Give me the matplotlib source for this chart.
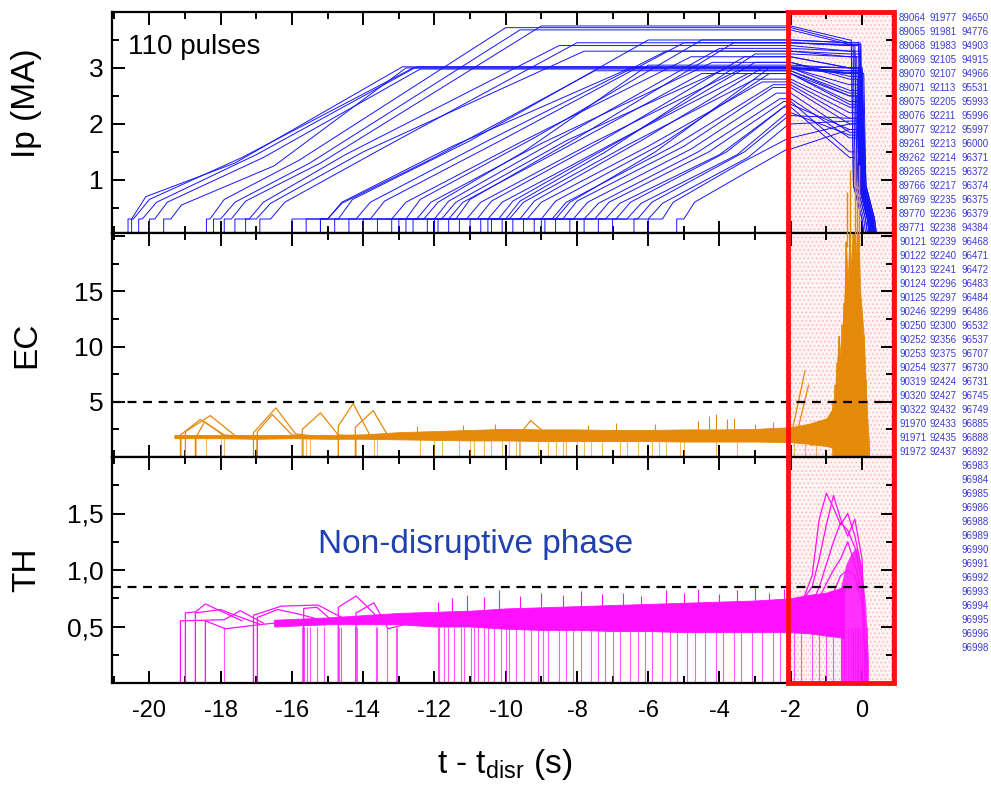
import numpy as np
import matplotlib
matplotlib.use("Agg")
from matplotlib import pyplot as plt
from matplotlib.patches import Rectangle
from matplotlib.ticker import MultipleLocator, FuncFormatter
import matplotlib.transforms as mtransforms

plt.rcParams['font.family'] = ['Liberation Sans', 'DejaVu Sans']
plt.rcParams['mathtext.fontset'] = 'custom'
plt.rcParams['mathtext.rm'] = 'Liberation Sans'
plt.rcParams['mathtext.it'] = 'Liberation Sans'
plt.rcParams['hatch.linewidth'] = 0.6

# ---------------- Ip traces (one entry per pulse shown) ----------------
# on: current appears, rt: end of 0.3 MA pedestal, kt/kv: knee, mt/mv: mid ramp,
# tt/tv: flat-top start, ev: level just before quench, q: quench time
ip_on = [-20.5, -20.3, -20.0, -20.6, -19.6, -18.4, -18.2, -17.9, -17.6, -17.3, -16.9,
         -16.0, -15.6, -15.2, -14.8, -14.4, -14.0, -13.6, -13.2, -12.8, -12.6, -12.2,
         -11.9, -11.6, -11.3, -11.0, -10.7, -10.4, -10.1, -9.8, -9.5, -9.2, -8.9, -8.6,
         -8.2, -7.8, -7.4, -7.0, -6.4, -13.0, -10.5, -9.0, -15.2, -12.0, -6.0, -5.2]
ip_rt = [-20.45, -20.2, -19.85, -20.5, -19.4, -18.3, -18.0, -17.7, -17.2, -17.0, -16.6,
         -15.0, -14.7, -14.2, -13.8, -13.2, -12.8, -12.5, -12.0, -11.8, -11.4, -11.1,
         -10.8, -10.5, -10.2, -9.9, -9.6, -9.4, -9.0, -8.7, -8.4, -8.1, -7.8, -7.5,
         -7.2, -6.9, -6.6, -6.3, -6.0, -12.3, -10.0, -8.6, -15.0, -11.6, -5.6, -5.0]
ip_kt = [-20.0, -19.8, -19.5, -20.1, -19.1, -17.9, -17.6, -17.3, -16.8, -16.6, -16.2,
         -14.6, -14.3, -13.8, -13.4, -12.8, -12.4, -12.1, -11.6, -11.4, -11.0, -10.7,
         -10.4, -10.1, -9.8, -9.5, -9.2, -9.0, -8.6, -8.3, -8.0, -7.7, -7.4, -7.1,
         -6.8, -6.5, -6.2, -5.9, -5.6, -11.9, -9.6, -8.2, -14.6, -11.2, -5.3, -4.7]
ip_kv = [0.65, 0.6, 0.6, 0.7, 0.55, 0.65, 0.6, 0.62, 0.6, 0.58, 0.6,
         0.6, 0.65, 0.6, 0.62, 0.6, 0.65, 0.6, 0.62, 0.6, 0.65, 0.6,
         0.62, 0.6, 0.62, 0.6, 0.62, 0.6, 0.62, 0.6, 0.62, 0.6, 0.58, 0.6,
         0.58, 0.6, 0.58, 0.6, 0.58, 0.6, 0.62, 0.6, 0.58, 0.6, 0.6, 0.6]
ip_mt = [-17.4, -17.0, -16.8, -17.6, -16.5, -15.8, -15.5, -15.2, -14.5, -14.0, -13.5,
         -11.5, -11.0, -10.5, -10.0, -9.5, -9.2, -9.0, -8.6, -8.3, -8.0, -7.6,
         -7.3, -7.0, -6.8, -6.5, -6.2, -6.0, -5.6, -5.3, -5.0, -4.8, -4.6, -4.3,
         -4.0, -3.8, -3.5, -3.3, -3.2, -9.5, -7.2, -5.8, -12.0, -8.4, -3.4, -3.2]
ip_mv = [1.4, 1.45, 1.4, 1.3, 1.25, 1.35, 1.3, 1.3, 1.45, 1.5, 1.55,
         1.6, 1.7, 1.7, 1.75, 1.7, 1.75, 1.65, 1.7, 1.7, 1.75, 1.65,
         1.7, 1.65, 1.7, 1.65, 1.7, 1.6, 1.65, 1.6, 1.6, 1.55, 1.5, 1.5,
         1.45, 1.5, 1.45, 1.5, 1.4, 1.5, 1.5, 1.5, 1.4, 1.55, 1.3, 1.15]
ip_tt = [-12.6, -12.5, -12.4, -12.9, -12.8, -10.0, -9.6, -9.0, -8.5, -7.8, -8.0,
         -6.5, -6.0, -5.5, -5.0, -4.8, -4.5, -4.2, -4.0, -3.8, -3.6, -3.5,
         -3.3, -3.2, -3.0, -3.0, -2.8, -2.8, -2.6, -2.5, -2.5, -2.4, -2.3, -2.2,
         -2.2, -2.1, -2.1, -2.05, -2.05, -6.0, -3.0, -2.6, -7.5, -4.5, -2.05, -2.1]
ip_tv = [3.0, 3.02, 2.98, 3.02, 3.0, 3.72, 3.68, 3.75, 3.4, 3.3, 3.45,
         3.0, 3.5, 3.3, 3.45, 3.2, 3.5, 3.1, 3.35, 3.0, 3.45, 2.95,
         3.2, 2.9, 3.1, 2.8, 3.0, 2.75, 2.9, 2.7, 2.65, 2.55, 2.45, 2.4,
         2.3, 2.35, 2.2, 2.15, 2.0, 3.05, 3.25, 3.0, 2.95, 2.9, 1.75, 1.55]
ip_ev = [2.95, 2.9, 2.9, 3.0, 2.92, 3.45, 3.42, 3.5, 3.3, 3.2, 3.4,
         2.95, 3.45, 3.25, 3.4, 3.0, 3.45, 2.8, 3.3, 2.7, 3.42, 2.5,
         3.0, 2.4, 2.85, 2.3, 2.6, 2.2, 2.5, 2.1, 2.0, 1.85, 1.75, 1.5,
         1.4, 1.9, 1.8, 2.1, 2.05, 3.0, 3.2, 2.9, 2.55, 2.35, 2.0, 1.9]
ip_q = [0.0, -0.05, 0.05, 0.0, 0.02, -0.3, -0.25, -0.3, -0.2, -0.15, -0.2,
        -0.1, -0.1, -0.05, -0.08, -0.1, -0.05, -0.12, -0.05, -0.1, -0.03, -0.15,
        -0.05, -0.1, -0.05, -0.12, -0.08, -0.1, -0.05, -0.12, -0.08, -0.1, -0.05, -0.1,
        -0.15, -0.1, -0.08, -0.05, 0.0, 0.0, -0.05, -0.02, -0.1, -0.05, 0.05, 0.05]

# ---------------- EC (orange) ----------------
ec_bt = [-19.3, -18.0, -17.0, -16.0, -15.0, -14.0, -13.0, -12.0, -11.0, -10.0, -9.0,
         -8.0, -7.0, -6.0, -5.0, -4.0, -3.0, -2.0, -1.5, -1.0, -0.8]
ec_lo = [1.7, 1.7, 1.65, 1.7, 1.65, 1.65, 1.6, 1.55, 1.5, 1.5, 1.45,
         1.45, 1.45, 1.45, 1.4, 1.4, 1.4, 1.35, 1.2, 1.0, 0.8]
ec_hi = [2.0, 2.0, 2.0, 2.0, 2.0, 2.05, 2.25, 2.35, 2.45, 2.55, 2.5,
         2.5, 2.45, 2.45, 2.5, 2.5, 2.55, 2.7, 3.0, 3.5, 4.5]
ec_bump_t0 = [-19.13, -18.99, -18.71, -17.08, -16.97, -15.71, -14.70, -14.22, -9.6]
ec_bump_v0 = [2.0, 2.3, 1.7, 2.2, 2.3, 2.5, 2.8, 2.7, 2.1]
ec_bump_tp = [-18.57, -18.29, -18.45, -16.45, -16.55, -15.20, -14.28, -13.72, -9.3]
ec_bump_vp = [3.4, 3.75, 3.2, 4.45, 3.85, 4.0, 4.85, 4.2, 3.3]
ec_bump_t1 = [-17.9, -17.6, -17.9, -15.9, -16.0, -14.7, -13.8, -13.3, -8.9]
ec_bump_v1 = [2.0, 1.95, 1.9, 2.1, 2.0, 2.0, 1.9, 1.9, 2.2]
ec_drop_t = [-19.1, -19.0, -18.7, -18.4, -18.0, -17.9, -17.1, -17.0, -15.7, -15.6,
             -15.5, -14.7, -14.2, -13.7, -13.6, -12.4, -12.0, -11.8, -11.3, -11.0,
             -10.9, -10.6, -10.4, -10.1, -9.9, -9.7, -9.1, -8.8, -8.6, -8.4, -8.3,
             -8.0, -7.8, -7.6, -7.3, -6.8, -6.6, -6.3, -5.9, -5.7, -5.5, -5.1, -5.0,
             -4.1, -3.5, -1.9, -1.6, -1.3]
ec_spk_t = [-12.5, -11.2, -10.3, -7.7, -6.9, -5.8, -4.6, -4.3, -4.1, -3.8, -3.6, -3.0, -2.5]
ec_spk_v = [2.8, 2.9, 3.0, 2.9, 3.1, 3.0, 3.3, 3.75, 3.9, 3.4, 3.55, 3.0, 3.2]
ec_late_t = [-0.8, -0.75, -0.7, -0.65, -0.6, -0.55, -0.5, -0.45, -0.4, -0.35, -0.3, -0.25,
             -0.2, -0.15, -0.1, -0.05, 0.0, 0.05, 0.1, 0.15, 0.2]
ec_late_v = [5.0, 6.5, 8.5, 11.0, 9.0, 12.0, 14.0, 19.5, 16.0, 20.5, 17.0, 20.5,
             20.5, 18.0, 20.5, 15.0, 13.0, 11.0, 7.0, 3.5, 1.0]
ec_over_t = [-0.42, -0.34, -0.2, -0.14, -0.08]
ec_over_v = [24.0, 26.0, 28.0, 25.0, 26.5]

# ---------------- TH (magenta) ----------------
th_bt = [-16.5, -15.0, -14.0, -13.0, -12.0, -11.0, -10.0, -9.0, -8.0, -7.0, -6.0,
         -5.0, -4.0, -3.0, -2.0, -1.5, -1.0, -0.5]
th_lo = [0.50, 0.52, 0.52, 0.52, 0.50, 0.50, 0.48, 0.47, 0.47, 0.46, 0.46,
         0.45, 0.45, 0.45, 0.45, 0.44, 0.42, 0.40]
th_hi = [0.56, 0.58, 0.60, 0.62, 0.63, 0.64, 0.66, 0.67, 0.68, 0.69, 0.70,
         0.71, 0.72, 0.73, 0.75, 0.78, 0.80, 0.85]
th_tr_t0 = [-19.13, -18.99, -18.71, -18.43, -17.08, -16.97, -15.67, -14.70, -14.20]
th_tr_v0 = [0.55, 0.62, 0.62, 0.55, 0.60, 0.58, 0.66, 0.67, 0.62]
th_tr_t1 = [-17.9, -18.7, -18.0, -17.87, -16.3, -16.4, -15.3, -14.2, -13.7]
th_tr_v1 = [0.56, 0.63, 0.65, 0.48, 0.68, 0.65, 0.67, 0.77, 0.71]
th_tr_t2 = [-17.45, -18.43, -17.6, -16.8, -15.27, -15.8, -14.9, -13.9, -13.3]
th_tr_v2 = [0.64, 0.70, 0.60, 0.52, 0.69, 0.61, 0.56, 0.68, 0.48]
th_tr_t3 = [-16.8, -17.4, -16.9, -16.2, -14.6, -15.1, -14.3, -13.5, -12.8]
th_tr_v3 = [0.53, 0.55, 0.52, 0.54, 0.58, 0.55, 0.55, 0.55, 0.52]
th_drop_t = [-19.13, -18.99, -18.71, -18.43, -17.92, -17.08, -16.97, -15.71, -15.67,
             -15.57, -15.48, -15.29, -15.1, -14.68, -14.63, -14.22, -14.17, -13.65,
             -13.6, -13.32, -13.09, -13.04, -11.91, -11.86, -11.72, -11.63, -11.44,
             -11.25, -11.16, -10.97, -10.88, -10.79, -10.6, -10.5, -10.32, -10.13,
             -9.99, -9.9, -9.7, -9.5, -9.3, -9.1, -8.95, -8.8, -8.5, -8.3, -8.1, -7.9,
             -7.6, -7.4, -7.2, -7.0, -6.8, -6.5, -6.3, -6.1, -5.9, -5.6, -5.4, -5.2,
             -4.9, -4.7, -4.4, -4.1, -3.9, -3.6, -3.4, -3.1, -2.8, -2.5, -2.3, -2.1,
             -1.9, -1.7, -1.4, -1.2, -1.0, -0.8, -0.6, -0.5, -0.4, -0.3, -0.25, -0.2,
             -0.15, -0.1, -0.05, 0.0, 0.05, 0.1, 0.15]
th_spk_t = [-11.9, -11.5, -11.1, -10.6, -10.2, -9.6, -9.0, -8.4, -7.9, -7.3, -6.7,
            -6.2, -5.5, -5.0, -4.6, -4.0, -3.5, -3.0, -2.6, -2.2]
th_spk_v = [0.72, 0.75, 0.78, 0.76, 0.82, 0.77, 0.80, 0.78, 0.81, 0.79, 0.80,
            0.77, 0.82, 0.80, 0.83, 0.79, 0.82, 0.84, 0.80, 0.83]
th_late_t = [-2.0, -1.7, -1.4, -1.2, -1.0, -0.8, -0.6, -0.4, -0.2, 0.0, 0.12]
th_late_1 = [0.62, 0.70, 0.95, 1.45, 1.68, 1.55, 1.40, 1.50, 1.30, 1.0, 0.0]
th_late_2 = [0.66, 0.72, 0.85, 1.10, 1.40, 1.66, 1.45, 1.30, 1.45, 1.1, 0.0]
th_late_3 = [0.58, 0.62, 0.70, 0.85, 1.05, 1.25, 1.42, 1.35, 1.20, 0.9, 0.0]
th_late_4 = [0.55, 0.60, 0.66, 0.75, 0.88, 1.00, 1.10, 1.25, 1.05, 0.8, 0.0]
th_late_5 = [0.50, 0.52, 0.58, 0.62, 0.70, 0.80, 0.95, 1.00, 0.95, 0.7, 0.0]
th_dense_t = [-0.6, -0.45, -0.3, -0.15, 0.0, 0.1, 0.18]
th_dense_v = [0.85, 1.05, 1.15, 1.2, 1.0, 0.7, 0.2]

# ---------------- pulse list ----------------
pulses_1 = [89064, 89065, 89068, 89069, 89070, 89071, 89075, 89076, 89077, 89261, 89262,
            89265, 89766, 89769, 89770, 89771, 90121, 90122, 90123, 90124, 90125, 90246,
            90250, 90252, 90253, 90254, 90319, 90320, 90322, 91970, 91971, 91972]
pulses_2 = [91977, 91981, 91983, 92105, 92107, 92113, 92205, 92211, 92212, 92213, 92214,
            92215, 92217, 92235, 92236, 92238, 92239, 92240, 92241, 92296, 92297, 92299,
            92300, 92356, 92375, 92377, 92424, 92427, 92432, 92433, 92435, 92437]
pulses_3 = [94650, 94776, 94903, 94915, 94966, 95531, 95993, 95996, 95997, 96000, 96371,
            96372, 96374, 96375, 96379, 94384, 96468, 96471, 96472, 96483, 96484, 96486,
            96532, 96537, 96707, 96730, 96731, 96745, 96749, 96885, 96888, 96892, 96983,
            96984, 96985, 96986, 96988, 96989, 96990, 96991, 96992, 96993, 96994, 96995,
            96996, 96998]

blue = '#1414ff'
orange = '#e5890a'
magenta = '#ff10ff'

W, H = 991, 794
fig = plt.figure(figsize=(W / 100, H / 100), dpi=100)


def px_ax(l, t, r, b):
    return [l / W, 1 - b / H, (r - l) / W, (b - t) / H]


ax1 = fig.add_axes(px_ax(112, 12, 893, 233))
ax2 = fig.add_axes(px_ax(112, 233, 893, 457), sharex=ax1)
ax3 = fig.add_axes(px_ax(112, 457, 893, 683), sharex=ax1)

for ax in (ax1, ax2, ax3):
    ax.axvspan(-2.07, 0.95, facecolor='#fff4f4', edgecolor='#ffb4b4', hatch='....',
               lw=0, zorder=0)

# Ip
for i in range(len(ip_on)):
    q = ip_q[i]
    t = [ip_on[i], ip_on[i], ip_rt[i], ip_kt[i], ip_mt[i], ip_tt[i], -2.0, -0.35,
         q, q + 0.06, q + 0.3, q + 0.36]
    v = [0, 0.3, 0.3, ip_kv[i], ip_mv[i], ip_tv[i], ip_tv[i], ip_ev[i],
         ip_ev[i], 0.9, 0.3, 0]
    ax1.plot(t, v, color=blue, lw=0.7, zorder=2)

ax1.set_ylim(0.05, 4.0)
ax1.yaxis.set_major_locator(MultipleLocator(1))
ax1.yaxis.set_minor_locator(MultipleLocator(0.5))
ax1.yaxis.set_major_formatter(FuncFormatter(lambda v, p: '%d' % v if 0 < v < 4 else ''))
ax1.text(0.02, 0.84, '110 pulses', transform=ax1.transAxes, fontsize=20,
         va='center', ha='left')

# EC
ax2.fill_between(ec_bt, ec_lo, ec_hi, color=orange, lw=0.6, zorder=2)
ax2.vlines(ec_drop_t, 0, 1.7, color=orange, alpha=0.6, lw=0.8, zorder=2)
for i in range(len(ec_bump_t0)):
    ax2.plot([ec_bump_t0[i], ec_bump_t0[i], ec_bump_tp[i], ec_bump_t1[i], ec_bump_t1[i] + 0.6],
             [0, ec_bump_v0[i], ec_bump_vp[i], ec_bump_v1[i], 1.85],
             color=orange, lw=0.9, zorder=2)
ax2.vlines(ec_spk_t, 2.2, ec_spk_v, color=orange, lw=0.8, zorder=2)
ax2.plot([-1.95, -1.6], [2.5, 7.8], color=orange, lw=0.9, zorder=2)
ax2.plot([-1.8, -1.5], [2.5, 6.5], color=orange, lw=0.9, zorder=2)
ax2.plot([-1.6, -1.4, -1.2], [1.5, 1.05, 1.6], color=orange, lw=0.9, zorder=2)
ax2.fill_between(ec_late_t, 0, ec_late_v, color=orange, lw=0.5, zorder=2)
ax2.vlines(ec_late_t, 0, ec_late_v, color=orange, lw=1.2, zorder=2)
ax2.vlines(ec_over_t, 19, ec_over_v, color=orange, lw=1.0, zorder=5, clip_on=False)
ax2.axhline(5, color='k', lw=1.6, ls=(0, (4, 3)), zorder=3)
ax2.set_ylim(0, 20.3)
ax2.yaxis.set_major_locator(MultipleLocator(5))
ax2.yaxis.set_minor_locator(MultipleLocator(2.5))
ax2.yaxis.set_major_formatter(FuncFormatter(lambda v, p: '%d' % v if 0 < v < 20 else ''))

# TH
ax3.fill_between(th_bt, th_lo, th_hi, color=magenta, lw=0.6, zorder=2)
ax3.vlines(th_drop_t, 0, 0.5, color=magenta, alpha=0.7, lw=0.8, zorder=2)
for i in range(len(th_tr_t0)):
    ax3.plot([th_tr_t0[i], th_tr_t0[i], th_tr_t1[i], th_tr_t2[i], th_tr_t3[i]],
             [0, th_tr_v0[i], th_tr_v1[i], th_tr_v2[i], th_tr_v3[i]],
             color=magenta, lw=0.9, zorder=2)
ax3.vlines(th_spk_t, 0.6, th_spk_v, color=magenta, lw=0.8, zorder=2)
for vals in (th_late_1, th_late_2, th_late_3, th_late_4, th_late_5):
    ax3.plot(th_late_t, vals, color=magenta, lw=0.9, zorder=2)
ax3.fill_between(th_dense_t, 0, th_dense_v, color=magenta, alpha=0.85, lw=0, zorder=2)
ax3.axhline(0.85, color='k', lw=1.6, ls=(0, (4, 3)), zorder=3)
ax3.set_ylim(0, 2.0)
ax3.yaxis.set_major_locator(MultipleLocator(0.5))
ax3.yaxis.set_minor_locator(MultipleLocator(0.25))
ax3.yaxis.set_major_formatter(FuncFormatter(
    lambda v, p: '' if v <= 0 or v >= 2 else ('%.1f' % v).replace('.', ',')))
ax3.text(0.465, 0.615, 'Non-disruptive phase', transform=ax3.transAxes, fontsize=24,
         color='#2040b0', ha='center', va='center')

for ax in (ax1, ax2, ax3):
    ax.set_xlim(-21.05, 0.87)
    ax.xaxis.set_major_locator(MultipleLocator(2))
    ax.xaxis.set_minor_locator(MultipleLocator(1))
    ax.tick_params(which='both', direction='in', top=True, right=True, width=1.4)
    ax.tick_params(which='major', length=9, labelsize=19, pad=6)
    ax.tick_params(which='minor', length=5)
    for s in ax.spines.values():
        s.set_linewidth(1.6)
for ax in (ax1, ax2):
    ax.tick_params(labelbottom=False)
ax3.tick_params(axis='x', labelsize=17, pad=12)
ax3.xaxis.set_major_formatter(FuncFormatter(lambda v, p: '%d' % v))

fig.text(27 / W, 1 - 103 / H, 'Ip (MA)', rotation=90, fontsize=24, ha='center', va='center')
fig.text(27 / W, 1 - 345 / H, 'EC', rotation=90, fontsize=24, ha='center', va='center')
fig.text(27 / W, 1 - 570 / H, 'TH', rotation=90, fontsize=24, ha='center', va='center')
fig.text(505 / W, 1 - 765 / H, r't - t$_{\rm disr}$ (s)', fontsize=24, ha='center',
         va='center')

# red box marking the disruptive window, spans all three panels
trans = mtransforms.blended_transform_factory(ax3.transData, fig.transFigure)
fig.add_artist(Rectangle((-2.07, 1 - 683 / H), 2.97, (683 - 12) / H, transform=trans,
                         fill=False, edgecolor='#ff1010', lw=3.5, zorder=10))

# pulse numbers, three columns right of the panels
cols = [(899, pulses_1), (930, pulses_2), (961, pulses_3)]
for x0, plist in cols:
    for r, p in enumerate(plist):
        fig.text(x0 / W, 1 - (18 + 14.0 * r) / H, str(p), fontsize=7.0, color='#3c3cd2',
                 ha='left', va='center')

fig.savefig('out.png', dpi=100)
